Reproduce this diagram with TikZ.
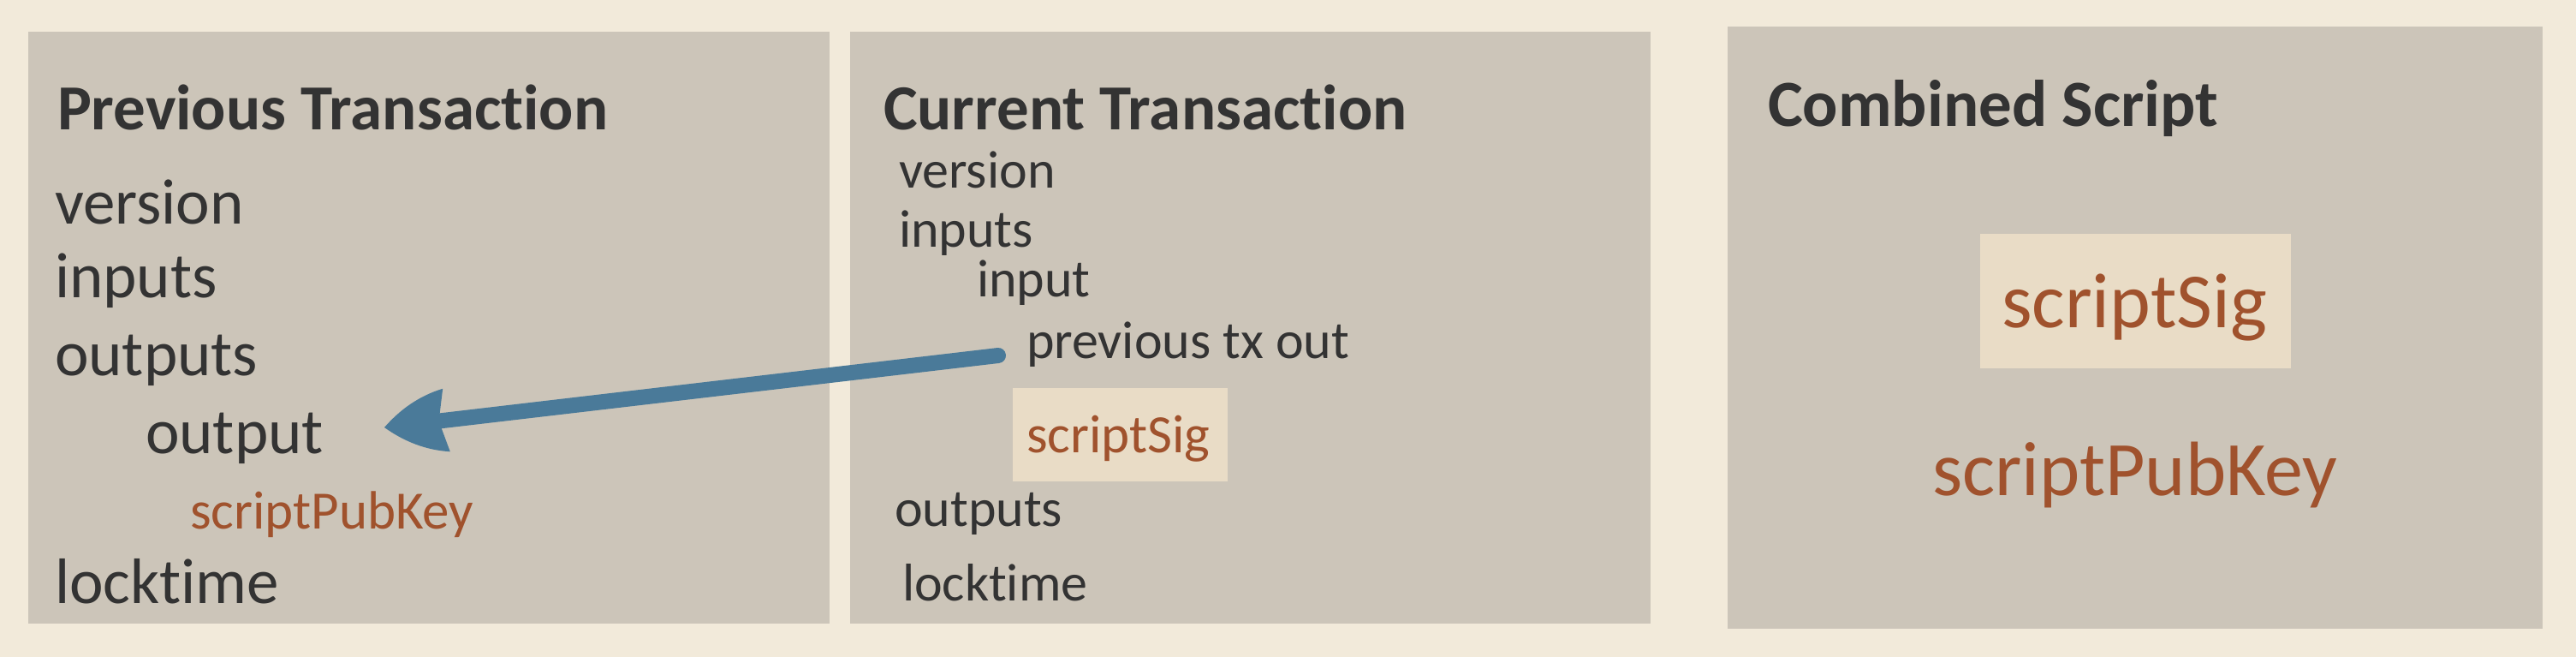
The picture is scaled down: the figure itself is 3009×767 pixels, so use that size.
\documentclass[tikz,border=0pt]{standalone}
\usepackage{fontspec}
\setmainfont{Carlito}[Ligatures=NoCommon]
\usetikzlibrary{arrows.meta}
\definecolor{bgcream}{HTML}{F2EADA}
\definecolor{panelgray}{HTML}{CCC5B9}
\definecolor{hilite}{HTML}{E9DCC6}
\definecolor{textdark}{HTML}{333333}
\definecolor{rust}{HTML}{A0522D}
\definecolor{arrowblue}{HTML}{4A7A99}

\pgfdeclarearrow{
  name = BarbHead,
  setup code = {
    \pgfarrowssettipend{0pt}
    \pgfarrowssetbackend{-73pt}
    \pgfarrowssetlineend{-60pt}
    \pgfarrowshullpoint{0pt}{0pt}
    \pgfarrowshullpoint{-73pt}{37pt}
    \pgfarrowshullpoint{-73pt}{-37pt}
  },
  drawing code = {
    \pgfpathmoveto{\pgfpointorigin}
    \pgfpathcurveto{\pgfpoint{-21pt}{19pt}}{\pgfpoint{-45pt}{32pt}}{\pgfpoint{-73pt}{37pt}}
    \pgfpathlineto{\pgfpoint{-64pt}{0pt}}
    \pgfpathlineto{\pgfpoint{-73pt}{-37pt}}
    \pgfpathcurveto{\pgfpoint{-45pt}{-32pt}}{\pgfpoint{-21pt}{-19pt}}{\pgfpointorigin}
    \pgfpathclose
    \pgfusepathqfill
  }
}

\newcommand{\fs}[1]{\fontsize{#1}{#1}\selectfont}

\begin{document}
\begin{tikzpicture}[x=1pt,y=-1pt,
  panel/.style={fill=panelgray, anchor=north west, inner sep=0pt, outer sep=0pt},
  hlbox/.style={fill=hilite, anchor=north west, inner sep=0pt, outer sep=0pt},
  txt/.style={anchor=base west, inner sep=0pt, outer sep=0pt, text=textdark},
  ttl/.style={txt, font=\fs{75}\bfseries},
  bodyA/.style={txt, font=\fs{75}},
  bodyB/.style={txt, font=\fs{62}},
  rusttxt/.style={anchor=base west, inner sep=0pt, outer sep=0pt, text=rust},
  link/.style={line width=18pt, color=arrowblue, line cap=round, -{BarbHead}}
]
\path[use as bounding box, fill=bgcream] (0,0) rectangle (3009,767);

% panels
\node[panel, minimum width=936pt, minimum height=691pt] (prevpanel) at (33,37) {};
\node[panel, minimum width=935pt, minimum height=691pt] (curpanel) at (993,37) {};
\node[panel, minimum width=952pt, minimum height=703pt] (combpanel) at (2018,31) {};

% previous transaction
\node[ttl] (prevtitle) at (67,152) {Previous Transaction};
\node[bodyA] (pversion) at (64,262) {version};
\node[bodyA] (pinputs) at (64,347) {inputs};
\node[bodyA] (poutputs) at (64,438) {outputs};
\node[bodyA] (poutput) at (170,529) {output};
\node[rusttxt, font=\fs{63}] (ppubkey) at (222,617) {scriptPubKey};
\node[bodyA] (plocktime) at (64,704) {locktime};

% current transaction
\node[ttl] (curtitle) at (1032,152) {Current Transaction};
\node[bodyB] (cversion) at (1050,220) {version};
\node[bodyB] (cinputs) at (1050,289) {inputs};
\node[bodyB] (cinput) at (1141,346) {input};
\node[bodyB] (cprevout) at (1199,418) {previous tx out};
\node[hlbox, minimum width=251pt, minimum height=109pt] (csigbox) at (1183,453) {};
\node[rusttxt, font=\fs{63}] (csig) at (1199,528) {scriptSig};
\node[bodyB] (coutputs) at (1045,614) {outputs};
\node[bodyB] (clocktime) at (1054,701) {locktime};

% combined script
\node[txt, font=\fs{77}\bfseries] (combtitle) at (2065,148) {Combined Script};
\node[hlbox, minimum width=363pt, minimum height=157pt] (msigbox) at (2313,273) {};
\node[rusttxt, font=\fs{91}] (msig) at (2338,382) {scriptSig};
\node[rusttxt, font=\fs{90}] (mpubkey) at (2257,578) {scriptPubKey};

% arrow
\coordinate (astart) at (1166,415);
\coordinate (atip) at (449,499);
\draw[link] (astart) -- (atip);
\end{tikzpicture}
\end{document}
